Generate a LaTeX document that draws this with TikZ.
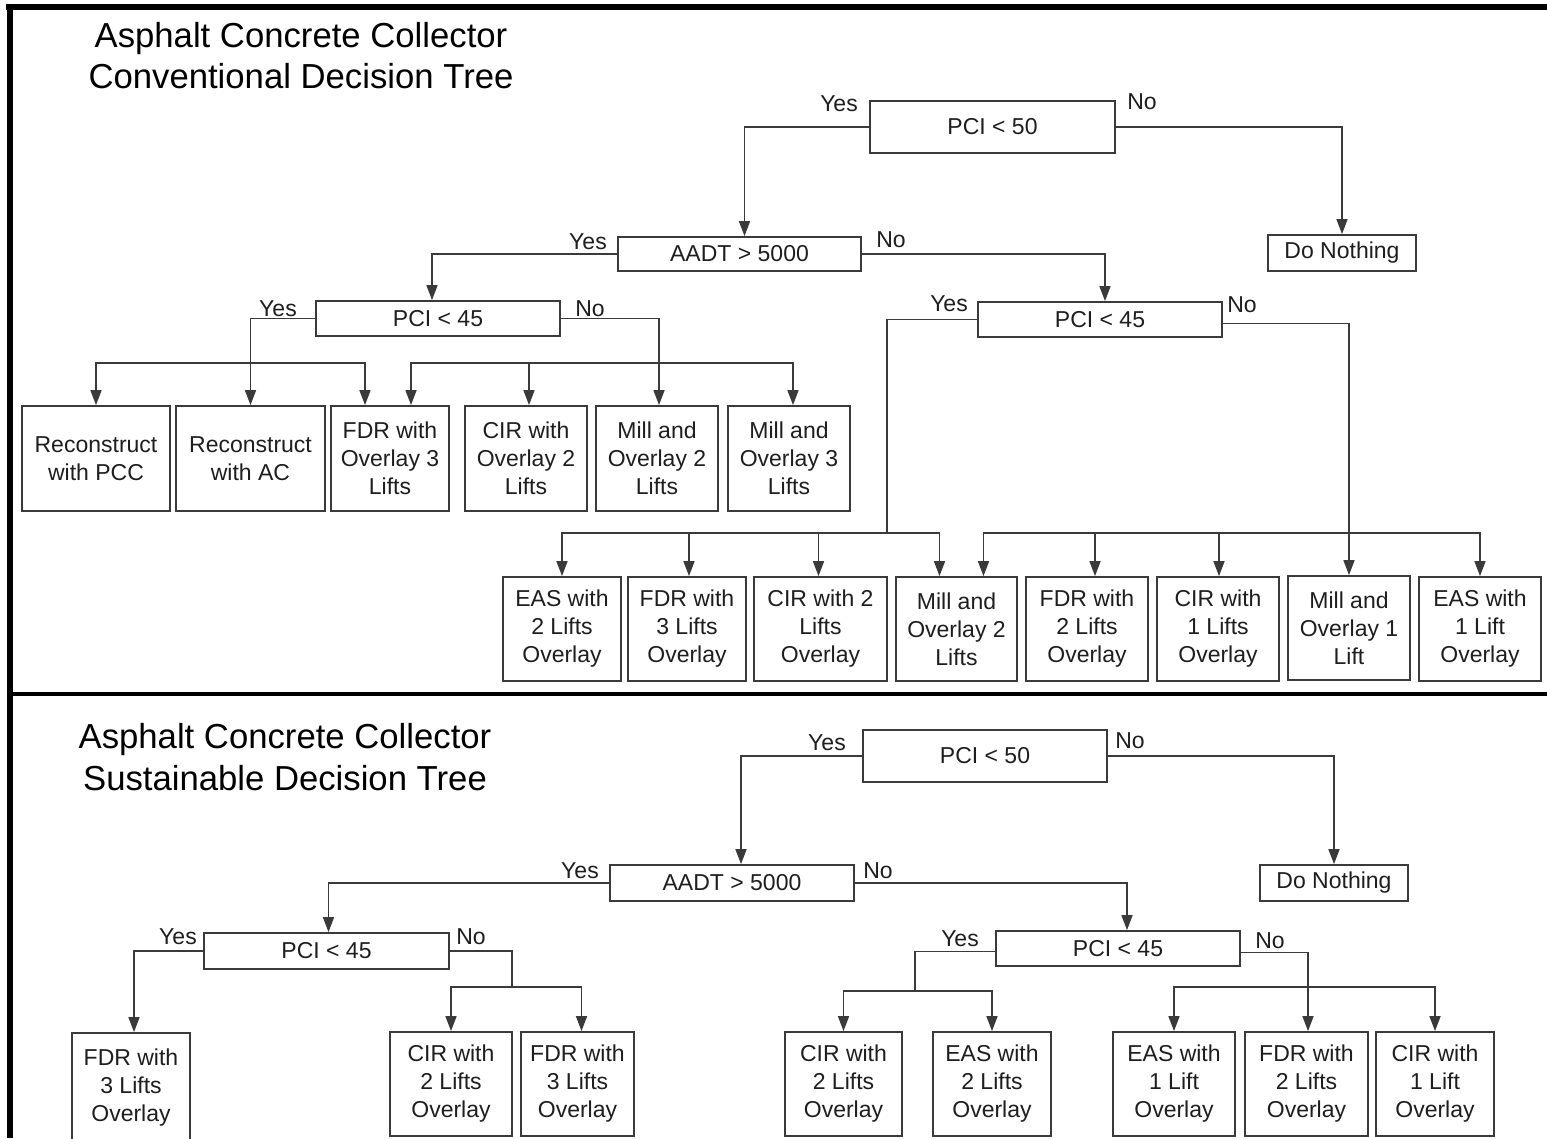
\documentclass[tikz,border=0pt]{standalone}
\usepackage{fontspec}
\setmainfont{Liberation Sans}
\usetikzlibrary{arrows.meta}
\definecolor{ink}{HTML}{1E1E1E}
\definecolor{edge}{HTML}{3A3A3A}
\begin{document}
\begin{tikzpicture}[x=1pt,y=-1pt,
  box/.style={draw=edge, line width=1.8pt, text=ink, align=center, inner sep=0pt,
    font=\fontsize{23}{28}\selectfont},
  cond/.style={box},
  leaf/.style={box, minimum height=104pt},
  lbl/.style={text=ink, inner sep=0pt, font=\fontsize{23}{28}\selectfont},
  ttl/.style={text=black, inner sep=0pt, anchor=base, font=\fontsize{34.7}{41}\selectfont},
  wire/.style={draw=edge, line width=1.6pt},
  conn/.style={wire, -{Triangle[length=15pt,width=11pt]}},
]
\useasboundingbox (0,0) rectangle (1547,1138);
\clip (0,0) rectangle (1547,1138);
\fill[white] (0,0) rectangle (1547,1138);

% frame and separator
\fill[black] (6,4) rectangle (1547,10);
\fill[black] (7,4) rectangle (12.5,1138);
\fill[black] (12,692) rectangle (1547,696);

% ---------------- conventional tree ----------------
\node[ttl] (ttlA1) at (301,47) {Asphalt Concrete Collector};
\node[ttl] (ttlA2) at (301,88) {Conventional Decision Tree};

\node[cond, minimum width=245pt, minimum height=52pt] (pci50u) at (992.5,127) {PCI < 50};
\node[cond, minimum width=243pt, minimum height=34pt] (aadtu) at (739.5,254) {AADT > 5000};
\node[cond, minimum width=148pt, minimum height=36pt] (dnu) at (1342,253) {Do Nothing};
\node[cond, minimum width=244pt, minimum height=35pt] (pci45a) at (438,318.5) {PCI < 45};
\node[cond, minimum width=244pt, minimum height=35pt] (pci45b) at (1100,319.5) {PCI < 45};

\node[lbl] (yA1) at (839,104) {Yes};
\node[lbl] (nA1) at (1142,102) {No};
\node[lbl] (yA2) at (588,242) {Yes};
\node[lbl] (nA2) at (891,240) {No};
\node[lbl] (yA3) at (278,309) {Yes};
\node[lbl] (nA3) at (590,309) {No};
\node[lbl] (yA4) at (949,304) {Yes};
\node[lbl] (nA4) at (1242,305) {No};

\node[leaf, minimum width=148pt, minimum height=105pt] (rpcc) at (96,458.5) {Reconstruct\\with PCC};
\node[leaf, minimum width=149pt, minimum height=105pt] (rac) at (250.5,458.5) {Reconstruct\\with AC};
\node[leaf, minimum width=118pt, minimum height=105pt] (fdr3a) at (390,458.5) {FDR with\\Overlay 3\\Lifts};
\node[leaf, minimum width=122pt, minimum height=105pt] (cir2a) at (526,458.5) {CIR with\\Overlay 2\\Lifts};
\node[leaf, minimum width=122pt, minimum height=105pt] (mo2a) at (657,458.5) {Mill and\\Overlay 2\\Lifts};
\node[leaf, minimum width=122pt, minimum height=105pt] (mo3a) at (789,458.5) {Mill and\\Overlay 3\\Lifts};

\node[leaf, minimum width=118pt] (eas2b) at (562,629) {EAS with\\2 Lifts\\Overlay};
\node[leaf, minimum width=118pt] (fdr3b) at (687,629) {FDR with\\3 Lifts\\Overlay};
\node[leaf, minimum width=133pt] (cir2b) at (820.5,629) {CIR with 2\\Lifts\\Overlay};
\node[leaf, minimum width=121pt] (mo2b) at (956.5,629) {Mill and\\Overlay 2\\Lifts};
\node[leaf, minimum width=122pt] (fdr2b) at (1087,629) {FDR with\\2 Lifts\\Overlay};
\node[leaf, minimum width=122pt] (cir1b) at (1218,629) {CIR with\\1 Lifts\\Overlay};
\node[leaf, minimum width=122pt] (mo1b) at (1349,628) {Mill and\\Overlay 1\\Lift};
\node[leaf, minimum width=122pt] (eas1b) at (1480,629) {EAS with\\1 Lift\\Overlay};

% branch junctions
\coordinate (jA) at (250,363);
\coordinate (jB) at (659,363);
\coordinate (jC) at (887,533);
\coordinate (jD) at (1349,533);

\draw[conn] (pci50u.west) -| ([xshift=5pt]aadtu.north);
\draw[conn] (pci50u.east) -| (dnu.north);
\draw[conn] (aadtu.west) -| ([xshift=-6pt]pci45a.north);
\draw[conn] (aadtu.east) -| ([xshift=5pt]pci45b.north);

\draw[conn] (pci45a.west) -| (rac.north);
\draw[conn] (jA) -| (rpcc.north);
\draw[conn] (jA) -| ([xshift=-25pt]fdr3a.north);
\draw[conn] (pci45a.east) -| ([xshift=2pt]mo2a.north);
\draw[conn] (jB) -| ([xshift=21pt]fdr3a.north);
\draw[conn] (jB) -| ([xshift=3pt]cir2a.north);
\draw[conn] (jB) -| ([xshift=4pt]mo3a.north);

\draw[wire] (pci45b.west) -| (jC);
\draw[conn] (jC) -| (eas2b.north);
\draw[conn] (jC) -| ([xshift=2pt]fdr3b.north);
\draw[conn] (jC) -| ([xshift=-2pt]cir2b.north);
\draw[conn] (jC) -| ([xshift=-17pt]mo2b.north);
\draw[conn] ([yshift=-4pt]pci45b.east) -| (mo1b.north);
\draw[conn] (jD) -| ([xshift=27pt]mo2b.north);
\draw[conn] (jD) -| ([xshift=8pt]fdr2b.north);
\draw[conn] (jD) -| ([xshift=1pt]cir1b.north);
\draw[conn] (jD) -| (eas1b.north);

% ---------------- sustainable tree ----------------
\node[ttl] (ttlB1) at (285,748) {Asphalt Concrete Collector};
\node[ttl] (ttlB2) at (285,790) {Sustainable Decision Tree};

\node[cond, minimum width=244pt, minimum height=52pt] (pci50l) at (985,756) {PCI < 50};
\node[cond, minimum width=244pt, minimum height=36pt] (aadtl) at (732,883) {AADT > 5000};
\node[cond, minimum width=148pt, minimum height=36pt] (dnl) at (1334,883) {Do Nothing};
\node[cond, minimum width=245pt, minimum height=36pt] (pci45c) at (326.5,951) {PCI < 45};
\node[cond, minimum width=244pt, minimum height=35pt] (pci45d) at (1118,948.5) {PCI < 45};

\node[lbl] (yB1) at (827,743) {Yes};
\node[lbl] (nB1) at (1130,741) {No};
\node[lbl] (yB2) at (580,871) {Yes};
\node[lbl] (nB2) at (878,871) {No};
\node[lbl] (yB3) at (178,937) {Yes};
\node[lbl] (nB3) at (471,937) {No};
\node[lbl] (yB4) at (960,939) {Yes};
\node[lbl] (nB4) at (1270,941) {No};

\node[leaf, minimum width=118pt, minimum height=132pt] (fdr3c) at (131,1099) {FDR with\\3 Lifts\\Overlay\\\mbox{}};
\node[leaf, minimum width=122pt] (cir2c) at (451,1084) {CIR with\\2 Lifts\\Overlay};
\node[leaf, minimum width=113pt] (fdr3d) at (577.5,1084) {FDR with\\3 Lifts\\Overlay};
\node[leaf, minimum width=117pt] (cir2d) at (843.5,1084) {CIR with\\2 Lifts\\Overlay};
\node[leaf, minimum width=118pt] (eas2d) at (992,1084) {EAS with\\2 Lifts\\Overlay};
\node[leaf, minimum width=122pt] (eas1d) at (1174,1084) {EAS with\\1 Lift\\Overlay};
\node[leaf, minimum width=123pt] (fdr2d) at (1306.5,1084) {FDR with\\2 Lifts\\Overlay};
\node[leaf, minimum width=118pt] (cir1d) at (1435,1084) {CIR with\\1 Lift\\Overlay};

\coordinate (jE) at (512,987);
\coordinate (jF) at (915,991);
\coordinate (jG) at (1308,987);

\draw[conn] (pci50l.west) -| ([xshift=9pt]aadtl.north);
\draw[conn] (pci50l.east) -| (dnl.north);
\draw[conn] (aadtl.west) -| ([xshift=2pt]pci45c.north);
\draw[conn] (aadtl.east) -| ([xshift=9pt]pci45d.north);

\draw[conn] (pci45c.west) -| ([xshift=3pt]fdr3c.north);
\draw[wire] (pci45c.east) -| (jE);
\draw[conn] (jE) -| (cir2c.north);
\draw[conn] (jE) -| ([xshift=4pt]fdr3d.north);

\draw[wire] ([yshift=-3pt]pci45d.west) -| (jF);
\draw[conn] (jF) -| (cir2d.north);
\draw[conn] (jF) -| (eas2d.north);
\draw[conn] ([yshift=-4pt]pci45d.east) -| ([xshift=1.5pt]fdr2d.north);
\draw[conn] (jG) -| (eas1d.north);
\draw[conn] (jG) -| (cir1d.north);
\end{tikzpicture}
\end{document}
